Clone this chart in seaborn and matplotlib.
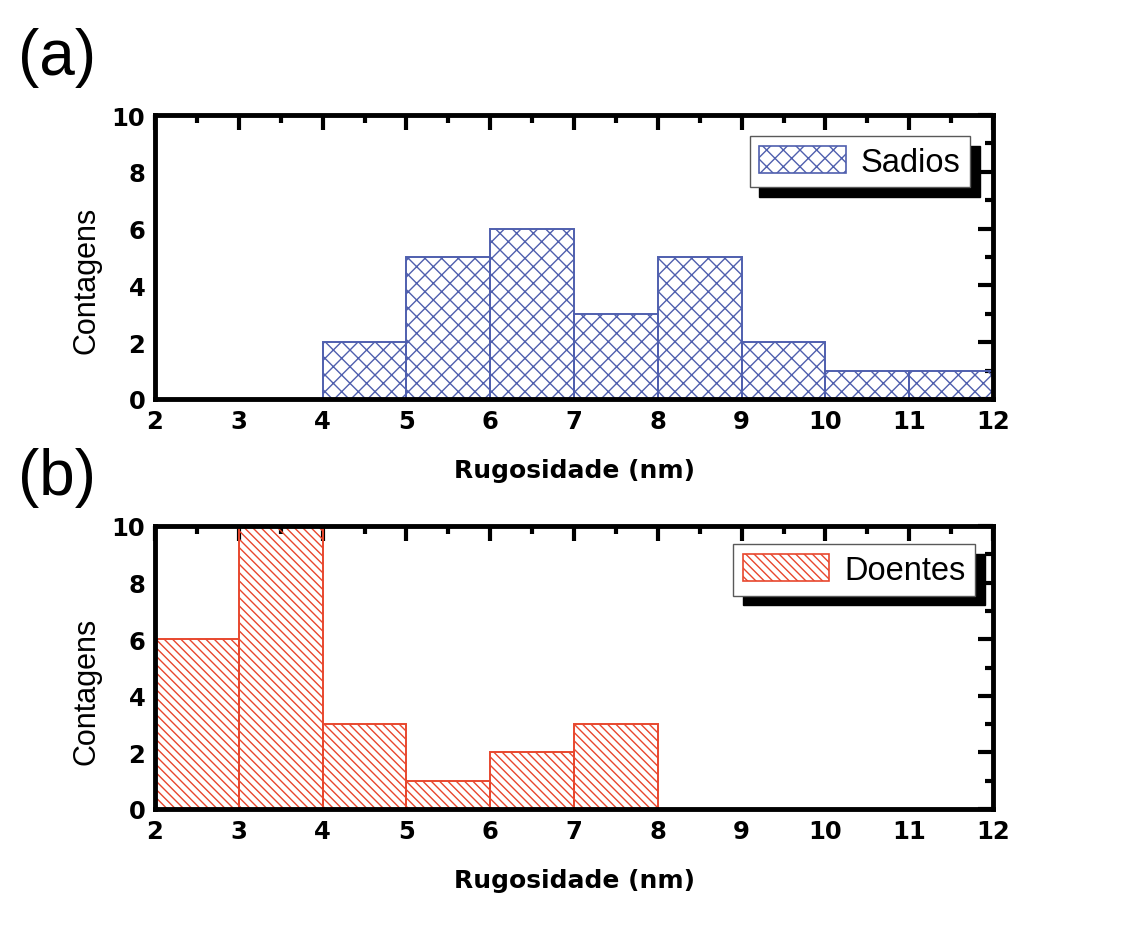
import matplotlib
matplotlib.use('Agg')
import matplotlib.pyplot as plt
import seaborn as sns
from matplotlib.ticker import MultipleLocator
from matplotlib.patches import Patch

# ---- data ----
bin_edges = [2, 3, 4, 5, 6, 7, 8, 9, 10, 11, 12]
bin_centers = [2.5, 3.5, 4.5, 5.5, 6.5, 7.5, 8.5, 9.5, 10.5, 11.5]
sadios_counts = [0, 0, 2, 5, 6, 3, 5, 2, 1, 1]
doentes_counts = [6, 10, 3, 1, 2, 3, 0, 0, 0, 0]
x_ticks = [2, 3, 4, 5, 6, 7, 8, 9, 10, 11, 12]
y_ticks = [0, 2, 4, 6, 8, 10]
xlabel = 'Rugosidade (nm)'
ylabel = 'Contagens'

blue = '#4f5fae'
red = '#e8472e'

sns.set_theme(style='white')
plt.rcParams['font.family'] = ['Liberation Sans', 'DejaVu Sans']
plt.rcParams['hatch.linewidth'] = 1.0
plt.rcParams['text.color'] = 'black'
plt.rcParams['axes.labelcolor'] = 'black'
plt.rcParams['xtick.color'] = 'black'
plt.rcParams['ytick.color'] = 'black'

bold_family = ['DejaVu Sans']

fig = plt.figure(figsize=(11.36, 9.45), dpi=100)
ax1 = fig.add_axes([155 / 1136, 1 - 400 / 945, 838 / 1136, 284 / 945])
ax2 = fig.add_axes([155 / 1136, 1 - 810 / 945, 838 / 1136, 283 / 945])


def draw(ax, counts, color, hatch, label, anchor, ylab_y):
    sns.histplot(x=bin_centers, weights=counts, bins=bin_edges, ax=ax,
                 stat='count', element='bars', fill=True, legend=False)
    for p in ax.patches:
        if p.get_height() == 0:
            p.set_visible(False)
        p.set_facecolor('none')
        p.set_edgecolor(color)
        p.set_linewidth(1.4)
        p.set_hatch(hatch)
        p.set_alpha(1)
    ax.set_xlim(2, 12)
    ax.set_ylim(0, 10)
    ax.set_xticks(x_ticks)
    ax.set_yticks(y_ticks)
    ax.xaxis.set_minor_locator(MultipleLocator(0.5))
    ax.yaxis.set_minor_locator(MultipleLocator(1))
    ax.tick_params(which='both', direction='in', top=True, right=True,
                   width=3, color='black')
    ax.tick_params(which='major', length=11, pad=7, labelsize=17.5)
    ax.tick_params(which='minor', length=6)
    for t in ax.get_xticklabels() + ax.get_yticklabels():
        t.set_fontweight('bold')
        t.set_family(bold_family)
    for s in ax.spines.values():
        s.set_linewidth(3.5)
        s.set_color('black')
        s.set_visible(True)
    ax.set_xlabel(xlabel, fontsize=18, fontweight='bold', family=bold_family, labelpad=18)
    ax.set_ylabel(ylabel, fontsize=22)
    ax.yaxis.set_label_coords(-0.064, ylab_y)
    handle = Patch(facecolor='white', edgecolor=color, hatch=hatch, linewidth=1.2, label=label)
    leg = ax.legend(handles=[handle], loc='upper right', bbox_to_anchor=anchor,
                    borderaxespad=0, fancybox=False, framealpha=1,
                    shadow={'ox': 7, 'oy': -7, 'color': 'black', 'alpha': 1},
                    fontsize=23.5, handlelength=2.65, handleheight=0.9,
                    handletextpad=0.45, borderpad=0.3)
    leg.get_frame().set_edgecolor('0.35')
    leg.get_frame().set_linewidth(1.0)


draw(ax1, sadios_counts, blue, 'xx', 'Sadios', (0.9726, 0.926), 0.42)
draw(ax2, doentes_counts, red, '\\\\\\\\', 'Doentes', (0.9785, 0.936), 0.42)

fig.text(18 / 1136, 1 - 58 / 945, '(a)', fontsize=46, va='center', ha='left')
fig.text(18 / 1136, 1 - 478 / 945, '(b)', fontsize=46, va='center', ha='left')

fig.savefig('out.png', dpi=100, facecolor='white')
